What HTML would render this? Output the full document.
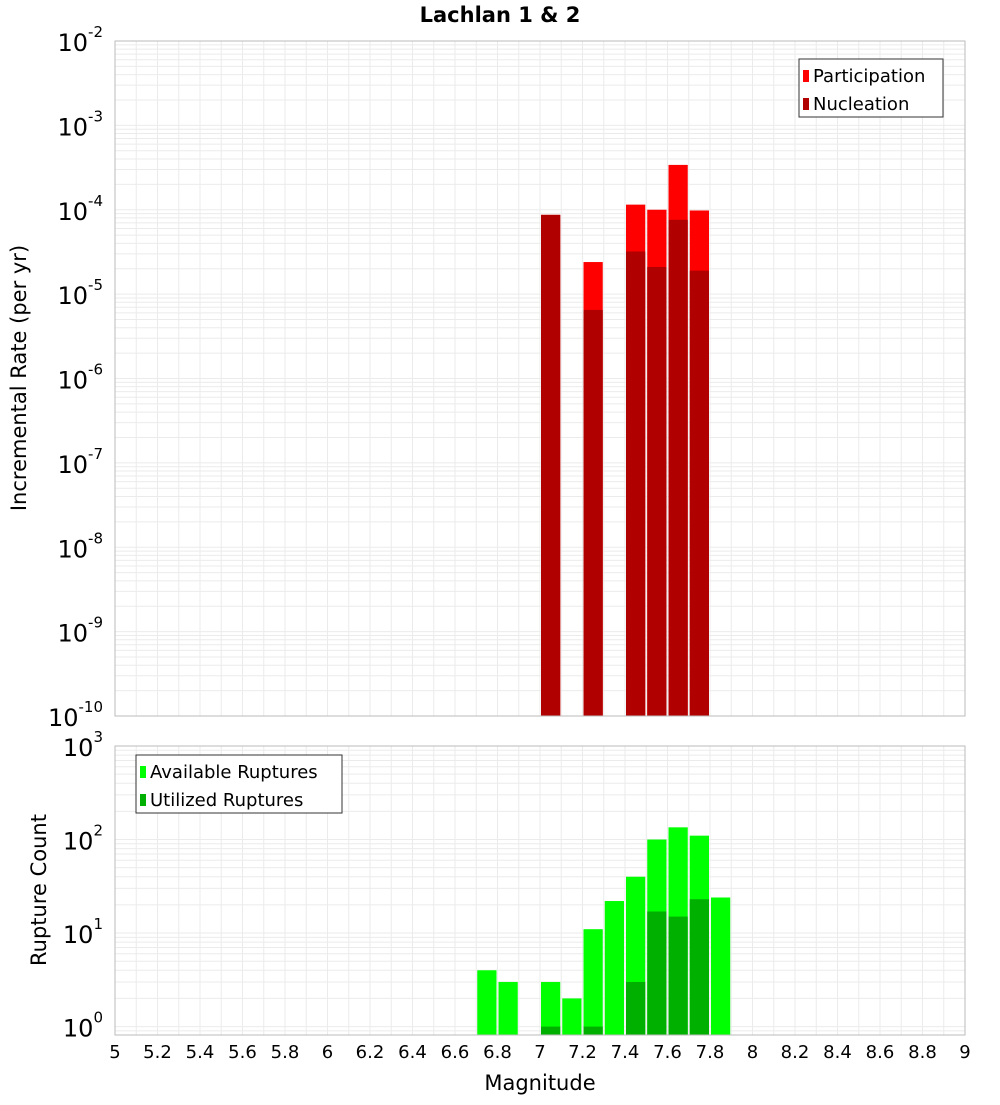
<!DOCTYPE html>
<html><head><meta charset="utf-8"><style>
body{margin:0;background:#fff;}
svg text{font-family:"DejaVu Sans","Liberation Sans",sans-serif;}
</style></head><body>
<svg id="c" width="1000" height="1100" xmlns="http://www.w3.org/2000/svg">
<text x="500" y="22" text-anchor="middle" font-size="21" font-weight="bold">Lachlan 1 &amp; 2</text>
<g id="topPanel"></g>
<g id="botPanel"></g>
<text transform="translate(26,378) rotate(-90)" text-anchor="middle" font-size="21">Incremental Rate (per yr)</text>
<text transform="translate(46,890) rotate(-90)" text-anchor="middle" font-size="21">Rupture Count</text>
<text x="540" y="1090" text-anchor="middle" font-size="21">Magnitude</text>
</svg>
<script>
const mags=[6.75,6.85,7.05,7.15,7.25,7.35,7.45,7.55,7.65,7.75,7.85];
const partMags=[7.05,7.25,7.45,7.55,7.65,7.75];
const participation=[8.7e-5,2.4e-5,1.15e-4,1.0e-4,3.4e-4,9.8e-5];
const nucleation=[8.7e-5,6.5e-6,3.2e-5,2.1e-5,7.6e-5,1.9e-5];
const available=[4,3,3,2,11,22,40,100,135,110,24];
const utilized=[0,0,1,0,1,0,3,17,15,23,0];
const xTicks=[5,5.2,5.4,5.6,5.8,6,6.2,6.4,6.6,6.8,7,7.2,7.4,7.6,7.8,8,8.2,8.4,8.6,8.8,9];
const topExp=[-10,-9,-8,-7,-6,-5,-4,-3,-2];
const botExp=[0,1,2,3];

const NS="http://www.w3.org/2000/svg";
const L=115,R=965;
const X=m=>L+(m-5)/4*(R-L);
const T0=41,T1=716,B0=746,B1=1035;
const yT=v=>T1-(Math.log10(v)+10)/8*(T1-T0);
const bMin=-0.09;
const yB=v=>B1-(Math.log10(v)-bMin)/(3-bMin)*(B1-B0);
function mk(p,tag,a){const e=document.createElementNS(NS,tag);for(const k in a)e.setAttribute(k,a[k]);p.appendChild(e);return e;}
const gTop=document.getElementById('topPanel'),gBot=document.getElementById('botPanel');

function grid(g,y0,y1,yf,exps){
  mk(g,'rect',{x:L,y:y0,width:R-L,height:y1-y0,fill:'#fff'});
  for(let i=-1;i<exps.length-1;i++)for(let k=1;k<10;k++){
    const e=i<0?exps[0]-1:exps[i];
    const v=k*Math.pow(10,e);const y=yf(v);
    if(y<y0||y>y1)continue;
    mk(g,'line',{x1:L,x2:R,y1:y,y2:y,stroke:'#ebebeb','stroke-width':1});
  }
  for(let j=0;j<=40;j++){const x=X(5+j*0.1);mk(g,'line',{x1:x,x2:x,y1:y0,y2:y1,stroke:'#ebebeb','stroke-width':1});}
}
grid(gTop,T0,T1,yT,topExp);
grid(gBot,B0,B1,yB,botExp);

const bw=(R-L)/40;
partMags.forEach((m,i)=>{
  const r=mk(gTop,'rect',{x:X(m)-bw/2+1,y:yT(participation[i]),width:bw-2,height:T1-yT(participation[i]),fill:'#ff0000'});
  
  
});
partMags.forEach((m,i)=>{
  const r=mk(gTop,'rect',{x:X(m)-bw/2+1,y:yT(nucleation[i]),width:bw-2,height:T1-yT(nucleation[i]),fill:'#b00000'});
  
  
});
mags.forEach((m,i)=>{
  const r=mk(gBot,'rect',{x:X(m)-bw/2+1,y:yB(available[i]),width:bw-2,height:B1-yB(available[i]),fill:'#00ff00'});
  
  
  if(utilized[i]>0){
    const u=mk(gBot,'rect',{x:X(m)-bw/2+1,y:yB(utilized[i]),width:bw-2,height:B1-yB(utilized[i]),fill:'#00b000'});
    
    
  }
});
mk(gTop,'rect',{x:L,y:T0,width:R-L,height:T1-T0,fill:'none',stroke:'#bbb'});
mk(gBot,'rect',{x:L,y:B0,width:R-L,height:B1-B0,fill:'none',stroke:'#bbb'});

function ylab(g,e,y){
  const t=mk(g,'text',{x:103,y:y+10,'text-anchor':'end','font-size':24});
  
  
  t.textContent='10';
  const s=mk(t,'tspan',{dy:-14,'font-size':15});s.textContent=String(e);
}
topExp.forEach(e=>ylab(gTop,e,yT(Math.pow(10,e))));
botExp.forEach(e=>ylab(gBot,e,yB(Math.pow(10,e))));
xTicks.forEach(m=>{
  const t=mk(gBot,'text',{x:X(m),y:1058,'text-anchor':'middle','font-size':18});
  
  
  t.textContent=String(m);
});

function legend(g,x,y,w,items){
  const b=mk(g,'rect',{x:x,y:y,width:w,height:58,fill:'#fff',stroke:'#333'});
  
  
  items.forEach((it,i)=>{
    mk(g,'rect',{x:x+4,y:y+11+i*28,width:6,height:12,fill:it[1]});
    const t=mk(g,'text',{x:x+14,y:y+23+i*28,'font-size':18});
    
    
    t.textContent=it[0];
  });
}
legend(gTop,799,59,144,[['Participation','#ff0000'],['Nucleation','#b00000']]);
legend(gBot,136,755,206,[['Available Ruptures','#00ff00'],['Utilized Ruptures','#00b000']]);
</script>
</body></html>
